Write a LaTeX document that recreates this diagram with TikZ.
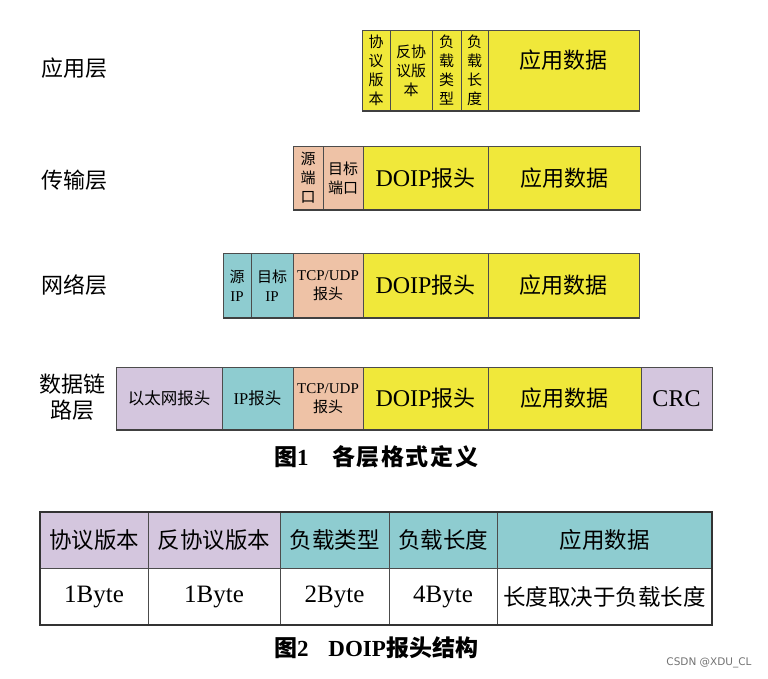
\documentclass[tikz,border=0pt]{standalone}
\usepackage{fontspec}
\setmainfont{Liberation Serif}
\newfontfamily\cjk{Noto Sans CJK SC}
\newfontfamily\wmfont{DejaVu Sans}
\usepackage{tikz}
\usetikzlibrary{positioning}

\definecolor{ylw}{RGB}{240,232,58}
\definecolor{peach}{RGB}{238,194,166}
\definecolor{tealc}{RGB}{142,204,208}
\definecolor{lav}{RGB}{212,198,222}

\newcommand{\lat}[1]{{\rmfamily\fontsize{24}{26}\selectfont #1}}

\begin{document}
\begin{tikzpicture}[x=1pt, y=-1pt,
    cellbox/.style={draw=black!70, line width=0.8pt, inner sep=0pt, outer sep=0pt, align=center, font=\cjk\fontsize{22}{26}\selectfont},
    vbox/.style={cellbox, font=\cjk\fontsize{15}{19}\selectfont},
    midbox/.style={cellbox, font=\cjk\fontsize{16.5}{20}\selectfont},
    tabbox/.style={cellbox, font=\cjk\fontsize{22.5}{26}\selectfont},
    bytebox/.style={tabbox, fill=white, font=\rmfamily\fontsize{25}{28}\selectfont},
    layer/.style={align=center, font=\cjk\fontsize{22}{26}\selectfont},
    caption/.style={font=\cjk\bfseries\fontsize{23}{26}\selectfont},
    bottomline/.style={line width=1.8pt, black!75}]
    \useasboundingbox (0,0) rectangle (768,679);

    % layer names
    \node[layer] (lapp) at (74,68) {应用层};
    \node[layer] (ltra) at (74,180) {传输层};
    \node[layer] (lnet) at (74,285) {网络层};
    \node[layer] (llnk) at (72,397) {数据链\\路层};

    % application layer
    \node[vbox, fill=ylw, minimum width=28, minimum height=81, anchor=north west] (app1) at (362,30) {协\\议\\版\\本};
    \node[vbox, fill=ylw, minimum width=42, minimum height=81] (app2) [right=0pt of app1] {反协\\议版\\本};
    \node[vbox, fill=ylw, minimum width=29, minimum height=81] (app3) [right=0pt of app2] {负\\载\\类\\型};
    \node[vbox, fill=ylw, minimum width=27, minimum height=81] (app4) [right=0pt of app3] {负\\载\\长\\度};
    \node[cellbox, fill=ylw, minimum width=151, minimum height=81, text height=16pt, text depth=20pt] (app5) [right=0pt of app4] {应用数据};
    \draw[bottomline] (app1.south west) -- (app5.south east);

    % transport layer
    \node[vbox, fill=peach, minimum width=30, minimum height=64, anchor=north west] (tra1) at (293,146) {源\\端\\口};
    \node[vbox, fill=peach, minimum width=40, minimum height=64] (tra2) [right=0pt of tra1] {目标\\端口};
    \node[cellbox, fill=ylw, minimum width=125, minimum height=64] (tra3) [right=0pt of tra2] {\lat{DOIP}报头};
    \node[cellbox, fill=ylw, minimum width=152, minimum height=64] (tra4) [right=0pt of tra3] {应用数据};
    \draw[bottomline] (tra1.south west) -- (tra4.south east);

    % network layer
    \node[vbox, fill=tealc, minimum width=28, minimum height=65, anchor=north west] (net1) at (223,253) {源\\{\rmfamily IP}};
    \node[vbox, fill=tealc, minimum width=42, minimum height=65] (net2) [right=0pt of net1] {目标\\{\rmfamily IP}};
    \node[vbox, fill=peach, minimum width=70, minimum height=65] (net3) [right=0pt of net2] {{\rmfamily TCP/UDP}\\报头};
    \node[cellbox, fill=ylw, minimum width=125, minimum height=65] (net4) [right=0pt of net3] {\lat{DOIP}报头};
    \node[cellbox, fill=ylw, minimum width=151, minimum height=65] (net5) [right=0pt of net4] {应用数据};
    \draw[bottomline] (net1.south west) -- (net5.south east);

    % data link layer
    \node[midbox, fill=lav, minimum width=106, minimum height=63, anchor=north west] (lnk1) at (116,367) {以太网报头};
    \node[midbox, fill=tealc, minimum width=71, minimum height=63] (lnk2) [right=0pt of lnk1] {{\rmfamily IP}报头};
    \node[vbox, fill=peach, minimum width=70, minimum height=63] (lnk3) [right=0pt of lnk2] {{\rmfamily TCP/UDP}\\报头};
    \node[cellbox, fill=ylw, minimum width=125, minimum height=63] (lnk4) [right=0pt of lnk3] {\lat{DOIP}报头};
    \node[cellbox, fill=ylw, minimum width=153, minimum height=63] (lnk5) [right=0pt of lnk4] {应用数据};
    \node[cellbox, fill=lav, minimum width=71, minimum height=63] (lnk6) [right=0pt of lnk5] {\lat{CRC}};
    \draw[bottomline] (lnk1.south west) -- (lnk6.south east);

    \node[caption] (cap1) at (376,457) {图{\rmfamily 1}\hspace{24pt}各\hspace{1.5pt}层\hspace{1.5pt}格\hspace{1.5pt}式\hspace{1.5pt}定\hspace{1.5pt}义};

    % DOIP header table
    \node[tabbox, fill=lav, minimum width=108, minimum height=56, anchor=north west] (th1) at (40,512) {协议版本};
    \node[tabbox, fill=lav, minimum width=132, minimum height=56] (th2) [right=0pt of th1] {反协议版本};
    \node[tabbox, fill=tealc, minimum width=109, minimum height=56] (th3) [right=0pt of th2] {负载类型};
    \node[tabbox, fill=tealc, minimum width=108, minimum height=56] (th4) [right=0pt of th3] {负载长度};
    \node[tabbox, fill=tealc, minimum width=215, minimum height=56] (th5) [right=0pt of th4] {应用数据};
    \node[bytebox, minimum width=108, minimum height=57] (tb1) [below=0pt of th1] {1Byte};
    \node[bytebox, minimum width=132, minimum height=57] (tb2) [below=0pt of th2] {1Byte};
    \node[bytebox, minimum width=109, minimum height=57] (tb3) [below=0pt of th3] {2Byte};
    \node[bytebox, minimum width=108, minimum height=57] (tb4) [below=0pt of th4] {4Byte};
    \node[tabbox, fill=white, minimum width=215, minimum height=57] (tb5) [below=0pt of th5] {长度取决于负载长度};
    \draw[line width=2pt, black!80] (th1.north west) rectangle (tb5.south east); % outer frame

    \node[caption] (cap2) at (376,648) {图{\rmfamily 2}\hspace{20pt}{\rmfamily DOIP}报头结构};

    \node[font=\wmfont\fontsize{10.5}{12}\selectfont, text=black!55] (mark) at (709,663) {CSDN @XDU\_CL};
\end{tikzpicture}
\end{document}
